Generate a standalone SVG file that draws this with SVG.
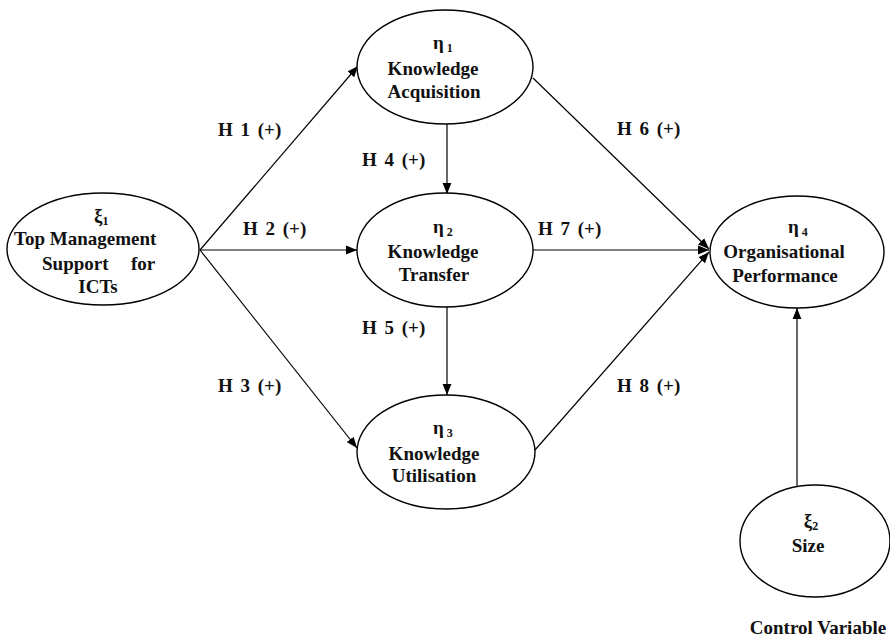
<svg xmlns="http://www.w3.org/2000/svg" width="890" height="637" viewBox="0 0 890 637">
<defs>
<style>
.n{fill:#fff;stroke:#000;stroke-width:1.4}
.t{font-family:"Liberation Serif","Times New Roman",serif;font-weight:bold;font-size:19px;fill:#111}
.s{font-size:12px}
.h{word-spacing:3px}
.c line{stroke:#000;stroke-width:1.2;marker-end:url(#ah)}
</style>
<marker id="ah" viewBox="0 0 10 10" refX="10" refY="5" markerWidth="11" markerHeight="11" markerUnits="userSpaceOnUse" orient="auto">
<path d="M0,1 L10,5 L0,9 Z" fill="#000"/>
</marker>
</defs>
<rect width="890" height="637" fill="#fff"/>
<g class="c" id="connectors">
<line x1="200" y1="250" x2="358" y2="66"/>
<line x1="200" y1="250" x2="357" y2="250"/>
<line x1="200" y1="250" x2="357" y2="448"/>
<line x1="447" y1="124" x2="447" y2="194"/>
<line x1="447" y1="307" x2="447" y2="395"/>
<line x1="533" y1="78" x2="709" y2="249"/>
<line x1="533" y1="250" x2="709" y2="250"/>
<line x1="535" y1="450" x2="709" y2="252"/>
<line x1="797" y1="486" x2="797" y2="308"/>
</g>
<g id="xi1">
<ellipse class="n" cx="103" cy="249" rx="96" ry="56"/>
<text class="t" x="94" y="222">ξ<tspan class="s" dy="3">1</tspan></text>
<text class="t" x="14" y="245">Top Management</text>
<text class="t" y="270"><tspan x="42">Support</tspan><tspan x="131">for</tspan></text>
<text class="t" x="98" y="293" text-anchor="middle">ICTs</text>
</g>
<g id="eta1">
<ellipse class="n" cx="445" cy="67" rx="88" ry="57"/>
<text class="t" x="433" y="49">η<tspan class="s" dx="3" dy="3">1</tspan></text>
<text class="t" x="433" y="75" text-anchor="middle">Knowledge</text>
<text class="t" x="434" y="98" text-anchor="middle">Acquisition</text>
</g>
<g id="eta2">
<ellipse class="n" cx="445" cy="250" rx="88" ry="57"/>
<text class="t" x="433" y="233">η<tspan class="s" dx="3" dy="3">2</tspan></text>
<text class="t" x="433" y="258" text-anchor="middle">Knowledge</text>
<text class="t" x="434" y="281" text-anchor="middle">Transfer</text>
</g>
<g id="eta3">
<ellipse class="n" cx="446" cy="452" rx="89" ry="57"/>
<text class="t" x="433" y="434">η<tspan class="s" dx="3" dy="3">3</tspan></text>
<text class="t" x="434" y="460" text-anchor="middle">Knowledge</text>
<text class="t" x="434" y="482" text-anchor="middle">Utilisation</text>
</g>
<g id="eta4">
<ellipse class="n" cx="797" cy="252" rx="87" ry="56"/>
<text class="t" x="788" y="233">η<tspan class="s" dx="3" dy="3">4</tspan></text>
<text class="t" x="784" y="258" text-anchor="middle">Organisational</text>
<text class="t" x="785" y="282" text-anchor="middle">Performance</text>
</g>
<g id="xi2">
<ellipse class="n" cx="815" cy="541" rx="75" ry="56"/>
<text class="t" x="811" y="527" text-anchor="middle">ξ<tspan class="s" dy="3">2</tspan></text>
<text class="t" x="808" y="552" text-anchor="middle">Size</text>
</g>
<g id="labels">
<text class="t h" x="218" y="136">H 1 (+)</text>
<text class="t h" x="617" y="135">H 6 (+)</text>
<text class="t h" x="362" y="166">H 4 (+)</text>
<text class="t h" x="243" y="235">H 2 (+)</text>
<text class="t h" x="538" y="235">H 7 (+)</text>
<text class="t h" x="362" y="334">H 5 (+)</text>
<text class="t h" x="218" y="392">H 3 (+)</text>
<text class="t h" x="617" y="392">H 8 (+)</text>
<text class="t" x="818" y="634" text-anchor="middle">Control Variable</text>
</g>
</svg>
